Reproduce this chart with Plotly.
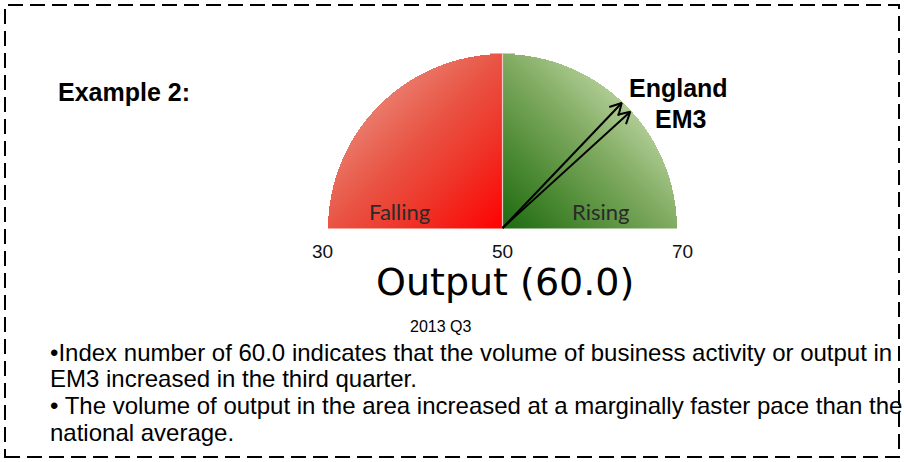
import numpy as np
import plotly.graph_objects as go

# ---- data ----
scale_min, scale_mid, scale_max = 30, 50, 70
tick_values = [30, 50, 70]
tick_labels = ["30", "50", "70"]
zone_labels = ["Falling", "Rising"]
arrow_names = ["England", "EM3"]
arrow_values = [59.7, 60.6]
title_text = "Output (60.0)"
period_text = "2013 Q3"
example_text = "Example 2:"
bullet_lines = [
    "•Index number of 60.0 indicates that the volume of business activity or output in",
    "EM3 increased in the third quarter.",
    "• The volume of output in the area increased at a marginally faster pace than the",
    "national average.",
]

W, H = 904, 462
CX, CY, R = 502.5, 228.0, 174.5  # gauge centre / radius in pixels


def X(px):
    return (px - CX) / R


def Y(py):
    return (CY - py) / R


def ang(v):
    return np.pi * (1 - (v - scale_min) / (scale_max - scale_min))


fig = go.Figure()

# ---- gradient half discs via heatmaps ----
n = 350
xs = np.linspace(-1, 1, n + 1)
xc = (xs[:-1] + xs[1:]) / 2
m = 175
ys = np.linspace(0, 1, m + 1)
yc = (ys[:-1] + ys[1:]) / 2
XX, YY = np.meshgrid(xc, yc)
inside = XX**2 + YY**2 <= 1.0

zr = np.where(inside & (XX < 0), ((XX + 1) + (1 - YY)) / 2, np.nan)
zg = np.where(inside & (XX >= 0), (XX + YY) / 2, np.nan)

red_scale = [[0, "#ee9a8c"], [0.3, "#ea7868"], [0.5, "#e95444"], [0.7, "#ee362a"], [1, "#ff0000"]]
green_scale = [[0, "#1c6a10"], [0.25, "#4d8a34"], [0.5, "#80ab61"], [0.72, "#b2ce96"], [1, "#c0d8a8"]]

fig.add_trace(go.Heatmap(x=xc, y=yc, z=zr, colorscale=red_scale, zmin=0, zmax=1,
                         showscale=False, hoverinfo="skip"))
fig.add_trace(go.Heatmap(x=xc, y=yc, z=zg, colorscale=green_scale, zmin=0, zmax=1,
                         showscale=False, hoverinfo="skip"))

# divider line
fig.add_trace(go.Scatter(x=[0, 0], y=[0, 1], mode="lines",
                         line=dict(color="#f4c8c4", width=1.2), hoverinfo="skip", showlegend=False))

# ---- arrows ----
head = 0.075
for name, v in zip(arrow_names, arrow_values):
    a = ang(v)
    tx, ty = np.cos(a) * 0.99, np.sin(a) * 0.99
    fig.add_trace(go.Scatter(x=[0, tx], y=[0, ty], mode="lines",
                             line=dict(color="black", width=2), hoverinfo="skip", showlegend=False))
    hx = [tx + head * np.cos(a + np.pi - 0.5), tx, tx + head * np.cos(a + np.pi + 0.5)]
    hy = [ty + head * np.sin(a + np.pi - 0.5), ty, ty + head * np.sin(a + np.pi + 0.5)]
    fig.add_trace(go.Scatter(x=hx, y=hy, mode="lines",
                             line=dict(color="black", width=2), hoverinfo="skip", showlegend=False))

ann = []
# tick labels
for v, t in zip(tick_values, tick_labels):
    a = ang(v)
    ann.append(dict(x=1.03 * np.cos(a), y=Y(251), text=t, showarrow=False,
                    font=dict(family="Liberation Sans, Arial", size=19, color="#111"),
                    xanchor="center", yanchor="middle"))

# zone labels
ann.append(dict(x=X(399), y=Y(211), text=zone_labels[0], showarrow=False,
                font=dict(family="Lato, Open Sans", size=22, color="#2a2a2a"),
                xanchor="center", yanchor="middle"))
ann.append(dict(x=X(600), y=Y(211), text=zone_labels[1], showarrow=False,
                font=dict(family="Lato, Open Sans", size=22, color="#2a2a2a"),
                xanchor="center", yanchor="middle"))

# arrow names
ann.append(dict(x=X(678), y=Y(88), text="<b>" + arrow_names[0] + "</b>", showarrow=False,
                font=dict(family="Liberation Sans, Arial", size=25, color="black"),
                xanchor="center", yanchor="middle"))
ann.append(dict(x=X(680), y=Y(119), text="<b>" + arrow_names[1] + "</b>", showarrow=False,
                font=dict(family="Liberation Sans, Arial", size=25, color="black"),
                xanchor="center", yanchor="middle"))

# example label
ann.append(dict(x=X(56), y=Y(92), text="<b>" + example_text + "</b>", showarrow=False,
                font=dict(family="Liberation Sans, Arial", size=25, color="black"),
                xanchor="left", yanchor="middle"))

# title
ann.append(dict(x=X(505), y=Y(282), text=title_text, showarrow=False,
                font=dict(family="DejaVu Sans", size=38, color="black"),
                xanchor="center", yanchor="middle"))
ann.append(dict(x=X(440), y=Y(326), text=period_text, showarrow=False,
                font=dict(family="Liberation Sans, Arial", size=16, color="black"),
                xanchor="center", yanchor="middle"))

# bullets
for i, line in enumerate(bullet_lines):
    ann.append(dict(x=X(48), y=Y(352 + i * 26.7), text=line, showarrow=False,
                    font=dict(family="Liberation Sans, Arial", size=24, color="black"),
                    xanchor="left", yanchor="middle"))

fig.update_layout(
    width=W, height=H,
    margin=dict(l=0, r=0, t=0, b=0),
    paper_bgcolor="white", plot_bgcolor="white",
    xaxis=dict(range=[X(0), X(W)], visible=False, fixedrange=True),
    yaxis=dict(range=[Y(H), Y(0)], visible=False, fixedrange=True),
    annotations=ann,
    showlegend=False,
    shapes=[dict(type="rect", xref="paper", yref="paper",
                 x0=5 / W, x1=899 / W, y0=1 - 457 / H, y1=1 - 5 / H,
                 line=dict(color="black", width=2, dash="15px,7px"))],
)

fig.write_html("out.html", config={"displayModeBar": False},
               post_script="document.body.style.margin='0';document.body.style.overflow='hidden';")
